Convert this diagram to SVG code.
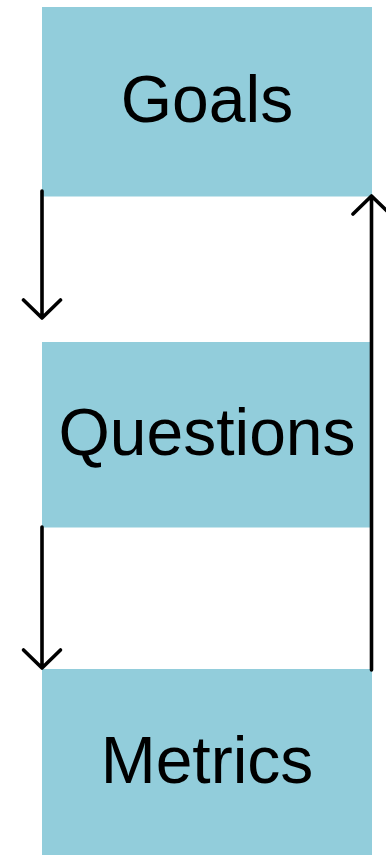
<svg xmlns="http://www.w3.org/2000/svg" width="386" height="855" viewBox="0 0 386 855">
<style>
.box{fill:#92CDDB;}
.lbl{font-family:"Liberation Sans",Arial,sans-serif;font-size:66px;fill:#000;text-anchor:middle;}
.conn{stroke:#000;stroke-width:3.6;fill:none;stroke-linecap:round;stroke-linejoin:round;}
</style>
<rect width="386" height="855" fill="#fff"/>
<g id="goals">
<rect class="box" x="42" y="7" width="330" height="189.5"/>
<text class="lbl" x="207" y="122">Goals</text>
</g>
<g id="questions">
<rect class="box" x="42" y="342" width="330" height="185.5"/>
<text class="lbl" x="207" y="455">Questions</text>
</g>
<g id="metrics">
<rect class="box" x="42" y="669" width="330" height="186"/>
<text class="lbl" x="207" y="783">Metrics</text>
</g>
<g id="connectors">
<path class="conn" d="M42,191 V318 M23.5,300 L42,318 L60.5,300"/>
<path class="conn" d="M42,527 V668 M23.5,650 L42,668 L60.5,650"/>
<path class="conn" d="M371.5,670 V196 M353,214 L371.5,196 L390,214"/>
</g>
</svg>
